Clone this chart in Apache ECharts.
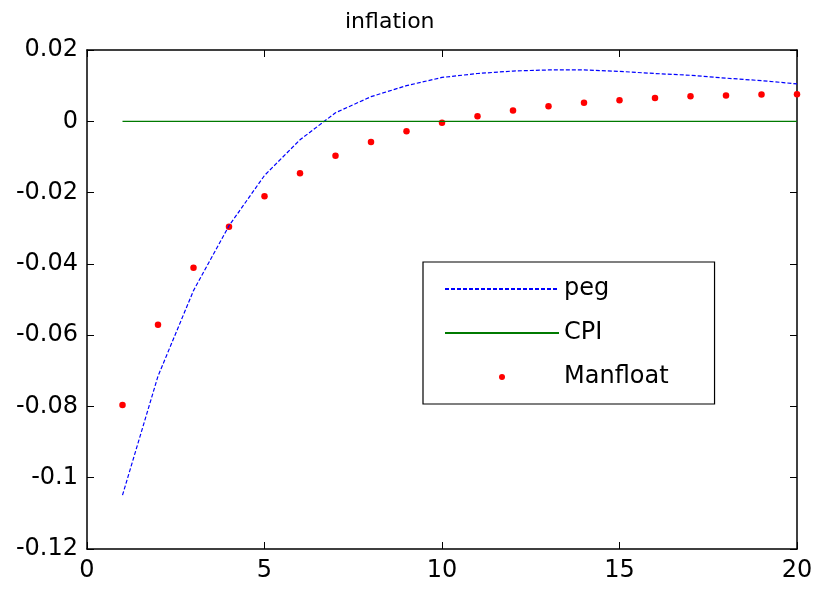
<!DOCTYPE html>
<html>
<head>
<meta charset="utf-8">
<script src="https://cdn.jsdelivr.net/npm/echarts@6/dist/echarts.min.js"></script>
<style>
  html, body { margin: 0; padding: 0; background: #fff; }
  #chart { width: 828px; height: 589px; }
</style>
</head>
<body>
<div id="chart"></div>
<script>
// periods 1..20
const periods = [1, 2, 3, 4, 5, 6, 7, 8, 9, 10, 11, 12, 13, 14, 15, 16, 17, 18, 19, 20];

const pegValues = [-0.1049, -0.0715, -0.0475, -0.0293, -0.0152, -0.0052, 0.0024, 0.0069, 0.0100, 0.0123,
    0.0134, 0.0141, 0.0144, 0.0144, 0.0140, 0.0134, 0.0129, 0.0121, 0.0114, 0.0105];
const cpiValues = [0, 0, 0, 0, 0, 0, 0, 0, 0, 0, 0, 0, 0, 0, 0, 0, 0, 0, 0, 0];
const manfloatValues = [-0.0796, -0.0571, -0.0411, -0.0296, -0.0210, -0.0146, -0.0097, -0.0058, -0.0028, -0.0004,
    0.0014, 0.0030, 0.0042, 0.0052, 0.0059, 0.0065, 0.0070, 0.0072, 0.0075, 0.0076];

const xTicks = [0, 5, 10, 15, 20];
const yTicks = [-0.12, -0.1, -0.08, -0.06, -0.04, -0.02, 0, 0.02];

const FONT = 'DejaVu Sans';
const pair = (vals) => periods.map((x, i) => [x, vals[i]]);

const chart = echarts.init(document.getElementById('chart'));

const axisLine = { show: true, onZero: false, lineStyle: { color: '#000', width: 1.5 } };
const axisTick = { show: true, inside: true, length: 7, lineStyle: { color: '#000', width: 1 } };
// line legend entries: hide the middle marker
const noMarker = { color: 'rgba(0,0,0,0)', borderWidth: 0 };

const option = {
    animation: false,
    backgroundColor: '#fff',
    title: {
        text: 'inflation',
        left: 340,
        top: 6,
        textStyle: { fontFamily: FONT, fontSize: 22, fontWeight: 'normal', color: '#000' }
    },
    grid: { left: 87, right: 31, top: 50, bottom: 40 },
    legend: {
        orient: 'vertical',
        left: 423,
        top: 262,
        padding: [15, 46, 15, 21],
        itemGap: 20,
        itemWidth: 114,
        itemHeight: 6,
        borderColor: '#000',
        borderWidth: 1.2,
        backgroundColor: '#fff',
        textStyle: { fontFamily: FONT, fontSize: 24, lineHeight: 24, color: '#000' },
        data: [
            { name: 'peg', itemStyle: noMarker },
            { name: 'CPI', itemStyle: noMarker },
            'Manfloat'
        ]
    },
    xAxis: [
        {
            type: 'value', min: xTicks[0], max: xTicks[xTicks.length - 1], interval: 5,
            axisLine, axisTick, splitLine: { show: false },
            axisLabel: { fontFamily: FONT, fontSize: 24, color: '#000', margin: 10 }
        },
        {
            type: 'value', position: 'top', min: xTicks[0], max: xTicks[xTicks.length - 1], interval: 5,
            axisLine, axisTick, splitLine: { show: false }, axisLabel: { show: false }
        }
    ],
    yAxis: [
        {
            type: 'value', min: yTicks[0], max: yTicks[yTicks.length - 1], interval: 0.02,
            axisLine, axisTick, splitLine: { show: false },
            axisLabel: {
                fontFamily: FONT, fontSize: 24, color: '#000', margin: 9,
                formatter: (v) => {
                    const r = Math.round(v * 100) / 100;
                    return r === 0 ? '0' : String(r);
                }
            }
        },
        {
            type: 'value', position: 'right', min: yTicks[0], max: yTicks[yTicks.length - 1], interval: 0.02,
            axisLine, axisTick, splitLine: { show: false }, axisLabel: { show: false }
        }
    ],
    series: [
        {
            name: 'peg',
            type: 'line',
            data: pair(pegValues),
            symbol: 'none',
            lineStyle: { color: '#0000ff', width: 1.2, type: [4, 2] },
            itemStyle: { color: '#0000ff' }
        },
        {
            name: 'CPI',
            type: 'line',
            data: pair(cpiValues),
            symbol: 'none',
            lineStyle: { color: '#007a00', width: 1.2 },
            itemStyle: { color: '#007a00' }
        },
        {
            name: 'Manfloat',
            type: 'scatter',
            data: pair(manfloatValues),
            symbol: 'circle',
            symbolSize: 6.5,
            itemStyle: { color: '#ff0000', opacity: 1 }
        }
    ]
};

chart.setOption(option);
</script>
</body>
</html>
